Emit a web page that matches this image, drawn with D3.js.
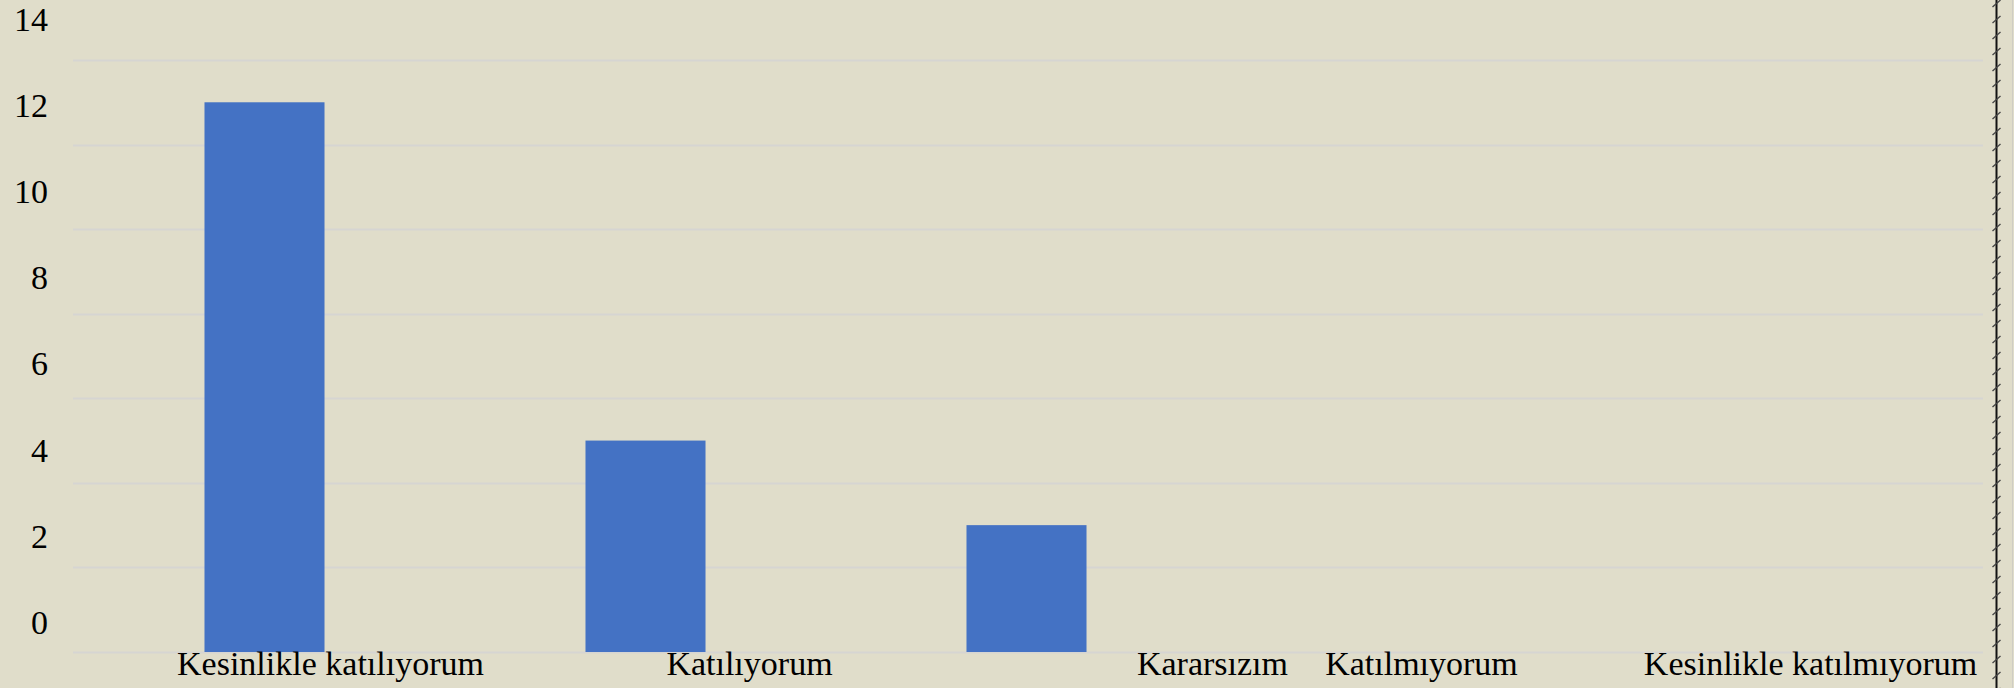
<!DOCTYPE html>
<html>
<head>
<meta charset="utf-8">
<script src="https://cdn.jsdelivr.net/npm/d3@7"></script>
<style>
    html, body { margin: 0; padding: 0; background: #e0ddca; }
    svg { display: block; }
    .tick-label { font-family: "Times New Roman", "Liberation Serif", serif; font-size: 34px; fill: #000; }
</style>
</head>
<body>
<div id="chart"></div>
<script>
const categories = ['Kesinlikle katılıyorum', 'Katılıyorum', 'Kararsızım', 'Katılmıyorum', 'Kesinlikle katılmıyorum'];
const counts = [13, 5, 3, 0, 0];
const yTicks = [0, 2, 4, 6, 8, 10, 12, 14];

const W = 2014, H = 688;
const plot = { left: 73, right: 1983, top: 60, bottom: 652 };

const svg = d3.select('#chart').append('svg')
    .attr('width', W)
    .attr('height', H);

svg.append('rect')
    .attr('width', W).attr('height', H)
    .attr('fill', '#e0ddca');

const x = d3.scaleBand()
    .domain(categories)
    .range([74, 1979])
    .paddingInner(0.685)
    .paddingOuter(0.3425);

const y = d3.scaleLinear()
    .domain([0, 14])
    .range([plot.bottom, plot.top]);

// the labels in the source sit a little above their grid lines
const yLab = d3.scaleLinear()
    .domain([0, 14])
    .range([622, 19]);

// grid
svg.append('g')
    .selectAll('line')
    .data(yTicks)
    .join('line')
    .attr('x1', plot.left)
    .attr('x2', plot.right)
    .attr('y1', d => Math.round(y(d)) + 0.5)
    .attr('y2', d => Math.round(y(d)) + 0.5)
    .attr('stroke', '#d6d5d2')
    .attr('stroke-width', 2);

// bars
svg.append('g')
    .selectAll('rect')
    .data(categories.map((c, i) => ({ c, v: counts[i] })))
    .join('rect')
    .attr('x', d => x(d.c))
    .attr('width', x.bandwidth())
    .attr('y', d => y(d.v))
    .attr('height', d => y(0) - y(d.v))
    .attr('fill', '#4472c4');

// y labels
svg.append('g')
    .selectAll('text')
    .data(yTicks)
    .join('text')
    .attr('class', 'tick-label')
    .attr('x', 48)
    .attr('y', d => yLab(d))
    .attr('dy', '0.35em')
    .attr('text-anchor', 'end')
    .text(d => d);

// x labels, nudged the way the source places them
const nudge = [66, 104, 186, 14, 22];
svg.append('g')
    .selectAll('text')
    .data(categories)
    .join('text')
    .attr('class', 'tick-label')
    .attr('x', (d, i) => x(d) + x.bandwidth() / 2 + nudge[i])
    .attr('y', 675)
    .attr('text-anchor', 'middle')
    .text(d => d);

// hatched border on the right
const border = svg.append('g');
border.append('line')
    .attr('x1', 1996.5).attr('x2', 1996.5)
    .attr('y1', 0).attr('y2', H)
    .attr('stroke', '#111')
    .attr('stroke-width', 2);
border.selectAll('path.hatch')
    .data(d3.range(-4, H + 16, 16))
    .join('path')
    .attr('class', 'hatch')
    .attr('d', d => `M1992.5,${d + 11}L2000.5,${d + 4}`)
    .attr('stroke', '#444')
    .attr('stroke-width', 1.3);
border.append('line')
    .attr('x1', 2012.5).attr('x2', 2012.5)
    .attr('y1', 0).attr('y2', H)
    .attr('stroke', '#cfcdc4')
    .attr('stroke-width', 1);
</script>
</body>
</html>
